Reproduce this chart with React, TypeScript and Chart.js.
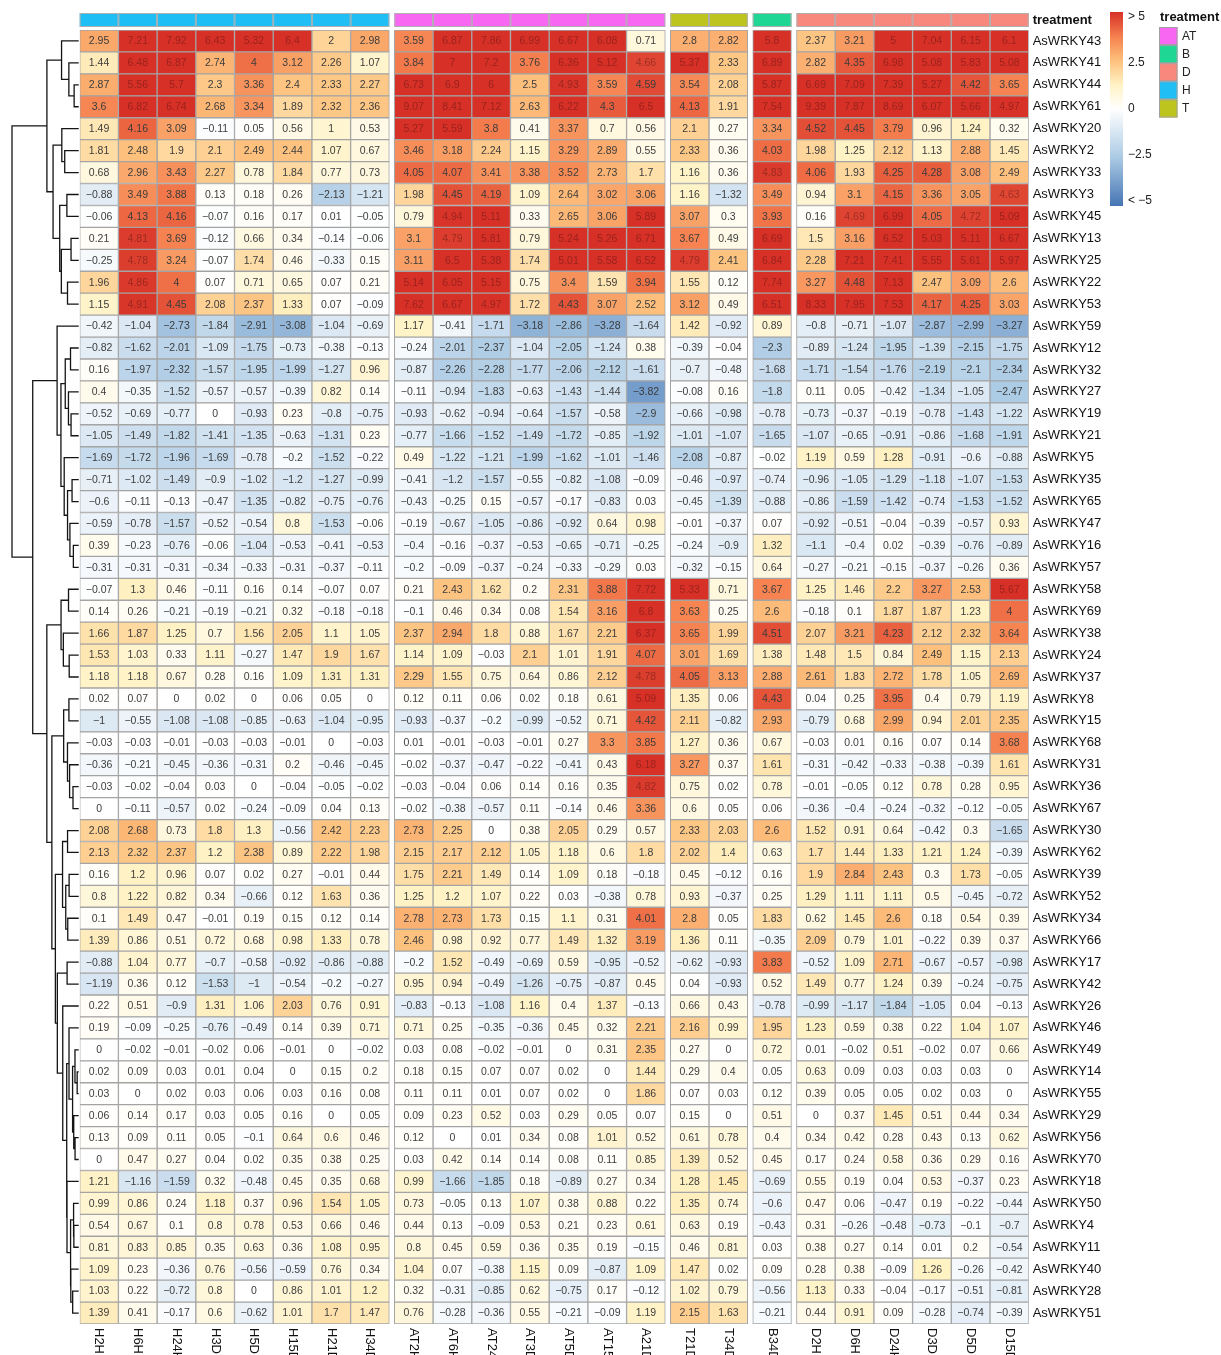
import React, { useEffect, useRef } from "react";
import { Chart, registerables } from "chart.js";
Chart.register(...registerables);

const FONT = "'Liberation Sans', Arial, Helvetica, sans-serif";

const rowLabels = [
  "AsWRKY43", "AsWRKY41", "AsWRKY44", "AsWRKY61", "AsWRKY20", "AsWRKY2", "AsWRKY33", "AsWRKY3", "AsWRKY45", "AsWRKY13",
  "AsWRKY25", "AsWRKY22", "AsWRKY53", "AsWRKY59", "AsWRKY12", "AsWRKY32", "AsWRKY27", "AsWRKY19", "AsWRKY21", "AsWRKY5",
  "AsWRKY35", "AsWRKY65", "AsWRKY47", "AsWRKY16", "AsWRKY57", "AsWRKY58", "AsWRKY69", "AsWRKY38", "AsWRKY24", "AsWRKY37",
  "AsWRKY8", "AsWRKY15", "AsWRKY68", "AsWRKY31", "AsWRKY36", "AsWRKY67", "AsWRKY30", "AsWRKY62", "AsWRKY39", "AsWRKY52",
  "AsWRKY34", "AsWRKY66", "AsWRKY17", "AsWRKY42", "AsWRKY26", "AsWRKY46", "AsWRKY49", "AsWRKY14", "AsWRKY55", "AsWRKY29",
  "AsWRKY56", "AsWRKY70", "AsWRKY18", "AsWRKY50", "AsWRKY4", "AsWRKY11", "AsWRKY40", "AsWRKY28", "AsWRKY51",
];

const columnLabels = [
  "H2H", "H6H", "H24H", "H3D", "H5D", "H15D", "H21D", "H34D",
  "AT2H", "AT6H", "AT24H", "AT3D", "AT5D", "AT15D", "A21D",
  "T21D", "T34D",
  "B34D",
  "D2H", "D6H", "D24H", "D3D", "D5D", "D15D",
];

const columnGroups = [
  "H", "H", "H", "H", "H", "H", "H", "H",
  "AT", "AT", "AT", "AT", "AT", "AT", "AT",
  "T", "T",
  "B",
  "D", "D", "D", "D", "D", "D",
];

const groupOrder = ["H", "AT", "T", "B", "D"];
const treatmentLevels = ["AT", "B", "D", "H", "T"];
const treatmentColors = ["#F767F2", "#1FD694", "#F8877E", "#1FBFF6", "#BEC41E"];
const legendValues = [5, 2.5, 0, -2.5, -5];
const legendLabels = ["> 5", "2.5", "0", "\u22122.5", "< \u22125"];

const valuesH = [
  [2.95, 7.21, 7.92, 6.43, 5.32, 6.4, 2, 2.98],
  [1.44, 6.48, 6.87, 2.74, 4, 3.12, 2.26, 1.07],
  [2.87, 5.56, 5.7, 2.3, 3.36, 2.4, 2.33, 2.27],
  [3.6, 6.82, 6.74, 2.68, 3.34, 1.89, 2.32, 2.36],
  [1.49, 4.16, 3.09, -0.11, 0.05, 0.56, 1, 0.53],
  [1.81, 2.48, 1.9, 2.1, 2.49, 2.44, 1.07, 0.67],
  [0.68, 2.96, 3.43, 2.27, 0.78, 1.84, 0.77, 0.73],
  [-0.88, 3.49, 3.88, 0.13, 0.18, 0.26, -2.13, -1.21],
  [-0.06, 4.13, 4.16, -0.07, 0.16, 0.17, 0.01, -0.05],
  [0.21, 4.81, 3.69, -0.12, 0.66, 0.34, -0.14, -0.06],
  [-0.25, 4.78, 3.24, -0.07, 1.74, 0.46, -0.33, 0.15],
  [1.96, 4.86, 4, 0.07, 0.71, 0.65, 0.07, 0.21],
  [1.15, 4.91, 4.45, 2.08, 2.37, 1.33, 0.07, -0.09],
  [-0.42, -1.04, -2.73, -1.84, -2.91, -3.08, -1.04, -0.69],
  [-0.82, -1.62, -2.01, -1.09, -1.75, -0.73, -0.38, -0.13],
  [0.16, -1.97, -2.32, -1.57, -1.95, -1.99, -1.27, 0.96],
  [0.4, -0.35, -1.52, -0.57, -0.57, -0.39, 0.82, 0.14],
  [-0.52, -0.69, -0.77, 0, -0.93, 0.23, -0.8, -0.75],
  [-1.05, -1.49, -1.82, -1.41, -1.35, -0.63, -1.31, 0.23],
  [-1.69, -1.72, -1.96, -1.69, -0.78, -0.2, -1.52, -0.22],
  [-0.71, -1.02, -1.49, -0.9, -1.02, -1.2, -1.27, -0.99],
  [-0.6, -0.11, -0.13, -0.47, -1.35, -0.82, -0.75, -0.76],
  [-0.59, -0.78, -1.57, -0.52, -0.54, 0.8, -1.53, -0.06],
  [0.39, -0.23, -0.76, -0.06, -1.04, -0.53, -0.41, -0.53],
  [-0.31, -0.31, -0.31, -0.34, -0.33, -0.31, -0.37, -0.11],
  [-0.07, 1.3, 0.46, -0.11, 0.16, 0.14, -0.07, 0.07],
  [0.14, 0.26, -0.21, -0.19, -0.21, 0.32, -0.18, -0.18],
  [1.66, 1.87, 1.25, 0.7, 1.56, 2.05, 1.1, 1.05],
  [1.53, 1.03, 0.33, 1.11, -0.27, 1.47, 1.9, 1.67],
  [1.18, 1.18, 0.67, 0.28, 0.16, 1.09, 1.31, 1.31],
  [0.02, 0.07, 0, 0.02, 0, 0.06, 0.05, 0],
  [-1, -0.55, -1.08, -1.08, -0.85, -0.63, -1.04, -0.95],
  [-0.03, -0.03, -0.01, -0.03, -0.03, -0.01, 0, -0.03],
  [-0.36, -0.21, -0.45, -0.36, -0.31, 0.2, -0.46, -0.45],
  [-0.03, -0.02, -0.04, 0.03, 0, -0.04, -0.05, -0.02],
  [0, -0.11, -0.57, 0.02, -0.24, -0.09, 0.04, 0.13],
  [2.08, 2.68, 0.73, 1.8, 1.3, -0.56, 2.42, 2.23],
  [2.13, 2.32, 2.37, 1.2, 2.38, 0.89, 2.22, 1.98],
  [0.16, 1.2, 0.96, 0.07, 0.02, 0.27, -0.01, 0.44],
  [0.8, 1.22, 0.82, 0.34, -0.66, 0.12, 1.63, 0.36],
  [0.1, 1.49, 0.47, -0.01, 0.19, 0.15, 0.12, 0.14],
  [1.39, 0.86, 0.51, 0.72, 0.68, 0.98, 1.33, 0.78],
  [-0.88, 1.04, 0.77, -0.7, -0.58, -0.92, -0.86, -0.88],
  [-1.19, 0.36, 0.12, -1.53, -1, -0.54, -0.2, -0.27],
  [0.22, 0.51, -0.9, 1.31, 1.06, 2.03, 0.76, 0.91],
  [0.19, -0.09, -0.25, -0.76, -0.49, 0.14, 0.39, 0.71],
  [0, -0.02, -0.01, -0.02, 0.06, -0.01, 0, -0.02],
  [0.02, 0.09, 0.03, 0.01, 0.04, 0, 0.15, 0.2],
  [0.03, 0, 0.02, 0.03, 0.06, 0.03, 0.16, 0.08],
  [0.06, 0.14, 0.17, 0.03, 0.05, 0.16, 0, 0.05],
  [0.13, 0.09, 0.11, 0.05, -0.1, 0.64, 0.6, 0.46],
  [0, 0.47, 0.27, 0.04, 0.02, 0.35, 0.38, 0.25],
  [1.21, -1.16, -1.59, 0.32, -0.48, 0.45, 0.35, 0.68],
  [0.99, 0.86, 0.24, 1.18, 0.37, 0.96, 1.54, 1.05],
  [0.54, 0.67, 0.1, 0.8, 0.78, 0.53, 0.66, 0.46],
  [0.81, 0.83, 0.85, 0.35, 0.63, 0.36, 1.08, 0.95],
  [1.09, 0.23, -0.36, 0.76, -0.56, -0.59, 0.76, 0.34],
  [1.03, 0.22, -0.72, 0.8, 0, 0.86, 1.01, 1.2],
  [1.39, 0.41, -0.17, 0.6, -0.62, 1.01, 1.7, 1.47],
];

const valuesAT = [
  [3.59, 6.87, 7.86, 6.99, 6.67, 6.08, 0.71],
  [3.84, 7, 7.2, 3.76, 6.36, 5.12, 4.66],
  [6.73, 6.9, 6, 2.5, 4.93, 3.59, 4.59],
  [9.07, 8.41, 7.12, 2.63, 6.22, 4.3, 6.5],
  [5.27, 5.59, 3.8, 0.41, 3.37, 0.7, 0.56],
  [3.46, 3.18, 2.24, 1.15, 3.29, 2.89, 0.55],
  [4.05, 4.07, 3.41, 3.38, 3.52, 2.73, 1.7],
  [1.98, 4.45, 4.19, 1.09, 2.64, 3.02, 3.06],
  [0.79, 4.94, 5.11, 0.33, 2.65, 3.06, 5.89],
  [3.1, 4.79, 5.81, 0.79, 5.24, 5.26, 6.71],
  [3.11, 6.5, 5.38, 1.74, 5.01, 5.58, 6.52],
  [5.14, 6.05, 5.15, 0.75, 3.4, 1.59, 3.94],
  [7.62, 6.67, 4.97, 1.72, 4.43, 3.07, 2.52],
  [1.17, -0.41, -1.71, -3.18, -2.86, -3.28, -1.64],
  [-0.24, -2.01, -2.37, -1.04, -2.05, -1.24, 0.38],
  [-0.87, -2.26, -2.28, -1.77, -2.06, -2.12, -1.61],
  [-0.11, -0.94, -1.83, -0.63, -1.43, -1.44, -3.82],
  [-0.93, -0.62, -0.94, -0.64, -1.57, -0.58, -2.9],
  [-0.77, -1.66, -1.52, -1.49, -1.72, -0.85, -1.92],
  [0.49, -1.22, -1.21, -1.99, -1.62, -1.01, -1.46],
  [-0.41, -1.2, -1.57, -0.55, -0.82, -1.08, -0.09],
  [-0.43, -0.25, 0.15, -0.57, -0.17, -0.83, 0.03],
  [-0.19, -0.67, -1.05, -0.86, -0.92, 0.64, 0.98],
  [-0.4, -0.16, -0.37, -0.53, -0.65, -0.71, -0.25],
  [-0.2, -0.09, -0.37, -0.24, -0.33, -0.29, 0.03],
  [0.21, 2.43, 1.62, 0.2, 2.31, 3.88, 7.72],
  [-0.1, 0.46, 0.34, 0.08, 1.54, 3.16, 6.8],
  [2.37, 2.94, 1.8, 0.88, 1.67, 2.21, 6.37],
  [1.14, 1.09, -0.03, 2.1, 1.01, 1.91, 4.07],
  [2.29, 1.55, 0.75, 0.64, 0.86, 2.12, 4.78],
  [0.12, 0.11, 0.06, 0.02, 0.18, 0.61, 5.09],
  [-0.93, -0.37, -0.2, -0.99, -0.52, 0.71, 4.42],
  [0.01, -0.01, -0.03, -0.01, 0.27, 3.3, 3.85],
  [-0.02, -0.37, -0.47, -0.22, -0.41, 0.43, 6.18],
  [-0.03, -0.04, 0.06, 0.14, 0.16, 0.35, 4.82],
  [-0.02, -0.38, -0.57, 0.11, -0.14, 0.46, 3.36],
  [2.73, 2.25, 0, 0.38, 2.05, 0.29, 0.57],
  [2.15, 2.17, 2.12, 1.05, 1.18, 0.6, 1.8],
  [1.75, 2.21, 1.49, 0.14, 1.09, 0.18, -0.18],
  [1.25, 1.2, 1.07, 0.22, 0.03, -0.38, 0.78],
  [2.78, 2.73, 1.73, 0.15, 1.1, 0.31, 4.01],
  [2.46, 0.98, 0.92, 0.77, 1.49, 1.32, 3.19],
  [-0.2, 1.52, -0.49, -0.69, 0.59, -0.95, -0.52],
  [0.95, 0.94, -0.49, -1.26, -0.75, -0.87, 0.45],
  [-0.83, -0.13, -1.08, 1.16, 0.4, 1.37, -0.13],
  [0.71, 0.25, -0.35, -0.36, 0.45, 0.32, 2.21],
  [0.03, 0.08, -0.02, -0.01, 0, 0.31, 2.35],
  [0.18, 0.15, 0.07, 0.07, 0.02, 0, 1.44],
  [0.11, 0.11, 0.01, 0.07, 0.02, 0, 1.86],
  [0.09, 0.23, 0.52, 0.03, 0.29, 0.05, 0.07],
  [0.12, 0, 0.01, 0.34, 0.08, 1.01, 0.52],
  [0.03, 0.42, 0.14, 0.14, 0.08, 0.11, 0.85],
  [0.99, -1.66, -1.85, 0.18, -0.89, 0.27, 0.34],
  [0.73, -0.05, 0.13, 1.07, 0.38, 0.88, 0.22],
  [0.44, 0.13, -0.09, 0.53, 0.21, 0.23, 0.61],
  [0.8, 0.45, 0.59, 0.36, 0.35, 0.19, -0.15],
  [1.04, 0.07, -0.38, 1.15, 0.09, -0.87, 1.09],
  [0.32, -0.31, -0.85, 0.62, -0.75, 0.17, -0.12],
  [0.76, -0.28, -0.36, 0.55, -0.21, -0.09, 1.19],
];

const valuesT = [
  [2.8, 2.82], [5.37, 2.33], [3.54, 2.08], [4.13, 1.91], [2.1, 0.27], [2.33, 0.36], [1.16, 0.36], [1.16, -1.32],
  [3.07, 0.3], [3.67, 0.49], [4.79, 2.41], [1.55, 0.12], [3.12, 0.49], [1.42, -0.92], [-0.39, -0.04], [-0.7, -0.48],
  [-0.08, 0.16], [-0.66, -0.98], [-1.01, -1.07], [-2.08, -0.87], [-0.46, -0.97], [-0.45, -1.39], [-0.01, -0.37],
  [-0.24, -0.9], [-0.32, -0.15], [5.33, 0.71], [3.63, 0.25], [3.65, 1.99], [3.01, 1.69], [4.05, 3.13], [1.35, 0.06],
  [2.11, -0.82], [1.27, 0.36], [3.27, 0.37], [0.75, 0.02], [0.6, 0.05], [2.33, 2.03], [2.02, 1.4], [0.45, -0.12],
  [0.93, -0.37], [2.8, 0.05], [1.36, 0.11], [-0.62, -0.93], [0.04, -0.93], [0.66, 0.43], [2.16, 0.99], [0.27, 0],
  [0.29, 0.4], [0.07, 0.03], [0.15, 0], [0.61, 0.78], [1.39, 0.52], [1.28, 1.45], [1.35, 0.74], [0.63, 0.19],
  [0.46, 0.81], [1.47, 0.02], [1.02, 0.79], [2.15, 1.63],
];

const valuesB = [
  5.8, 6.89, 5.87, 7.54, 3.34, 4.03, 4.83, 3.49, 3.93, 6.69, 6.84, 7.74, 6.51,
  0.89, -2.3, -1.68, -1.8, -0.78, -1.65, -0.02, -0.74, -0.88, 0.07, 1.32, 0.64,
  3.67, 2.6, 4.51, 1.38, 2.88, 4.43, 2.93, 0.67, 1.61, 0.78, 0.06,
  2.6, 0.63, 0.16, 0.25, 1.83, -0.35, 3.83, 0.52, -0.78, 1.95, 0.72, 0.05, 0.12, 0.51, 0.4, 0.45,
  -0.69, -0.6, -0.43, 0.03, 0.09, -0.56, -0.21,
];

const valuesD = [
  [2.37, 3.21, 5, 7.04, 6.15, 6.1],
  [2.82, 4.35, 6.98, 5.08, 5.83, 5.08],
  [6.69, 7.09, 7.39, 5.27, 4.42, 3.65],
  [9.39, 7.87, 8.69, 6.07, 5.66, 4.97],
  [4.52, 4.45, 3.79, 0.96, 1.24, 0.32],
  [1.98, 1.25, 2.12, 1.13, 2.88, 1.45],
  [4.06, 1.93, 4.25, 4.28, 3.08, 2.49],
  [0.94, 3.1, 4.15, 3.36, 3.05, 4.63],
  [0.16, 4.69, 6.99, 4.05, 4.72, 5.09],
  [1.5, 3.16, 6.52, 5.03, 5.11, 6.67],
  [2.28, 7.21, 7.41, 5.55, 5.61, 5.97],
  [3.27, 4.48, 7.13, 2.47, 3.09, 2.6],
  [8.33, 7.95, 7.53, 4.17, 4.25, 3.03],
  [-0.8, -0.71, -1.07, -2.87, -2.99, -3.27],
  [-0.89, -1.24, -1.95, -1.39, -2.15, -1.75],
  [-1.71, -1.54, -1.76, -2.19, -2.1, -2.34],
  [0.11, 0.05, -0.42, -1.34, -1.05, -2.47],
  [-0.73, -0.37, -0.19, -0.78, -1.43, -1.22],
  [-1.07, -0.65, -0.91, -0.86, -1.68, -1.91],
  [1.19, 0.59, 1.28, -0.91, -0.6, -0.88],
  [-0.96, -1.05, -1.29, -1.18, -1.07, -1.53],
  [-0.86, -1.59, -1.42, -0.74, -1.53, -1.52],
  [-0.92, -0.51, -0.04, -0.39, -0.57, 0.93],
  [-1.1, -0.4, 0.02, -0.39, -0.76, -0.89],
  [-0.27, -0.21, -0.15, -0.37, -0.26, 0.36],
  [1.25, 1.46, 2.2, 3.27, 2.53, 5.67],
  [-0.18, 0.1, 1.87, 1.87, 1.23, 4],
  [2.07, 3.21, 4.23, 2.12, 2.32, 3.64],
  [1.48, 1.5, 0.84, 2.49, 1.15, 2.13],
  [2.61, 1.83, 2.72, 1.78, 1.05, 2.69],
  [0.04, 0.25, 3.95, 0.4, 0.79, 1.19],
  [-0.79, 0.68, 2.99, 0.94, 2.01, 2.35],
  [-0.03, 0.01, 0.16, 0.07, 0.14, 3.68],
  [-0.31, -0.42, -0.33, -0.38, -0.39, 1.61],
  [-0.01, -0.05, 0.12, 0.78, 0.28, 0.95],
  [-0.36, -0.4, -0.24, -0.32, -0.12, -0.05],
  [1.52, 0.91, 0.64, -0.42, 0.3, -1.65],
  [1.7, 1.44, 1.33, 1.21, 1.24, -0.39],
  [1.9, 2.84, 2.43, 0.3, 1.73, -0.05],
  [1.29, 1.11, 1.11, 0.5, -0.45, -0.72],
  [0.62, 1.45, 2.6, 0.18, 0.54, 0.39],
  [2.09, 0.79, 1.01, -0.22, 0.39, 0.37],
  [-0.52, 1.09, 2.71, -0.67, -0.57, -0.98],
  [1.49, 0.77, 1.24, 0.39, -0.24, -0.75],
  [-0.99, -1.17, -1.84, -1.05, 0.04, -0.13],
  [1.23, 0.59, 0.38, 0.22, 1.04, 1.07],
  [0.01, -0.02, 0.51, -0.02, 0.07, 0.66],
  [0.63, 0.09, 0.03, 0.03, 0.03, 0],
  [0.39, 0.05, 0.05, 0.02, 0.03, 0],
  [0, 0.37, 1.45, 0.51, 0.44, 0.34],
  [0.34, 0.42, 0.28, 0.43, 0.13, 0.62],
  [0.17, 0.24, 0.58, 0.36, 0.29, 0.16],
  [0.55, 0.19, 0.04, 0.53, -0.37, 0.23],
  [0.47, 0.06, -0.47, 0.19, -0.22, -0.44],
  [0.31, -0.26, -0.48, -0.73, -0.1, -0.7],
  [0.38, 0.27, 0.14, 0.01, 0.2, -0.54],
  [0.28, 0.38, -0.09, 1.26, -0.26, -0.42],
  [1.13, 0.33, -0.04, -0.17, -0.51, -0.81],
  [0.44, 0.91, 0.09, -0.28, -0.74, -0.39],
];

// colour scale limits: values beyond are shown as "> 5" / "< -5"
const SCALE_MIN = -5;
const SCALE_MAX = 5;

// colour ramp (value -> rgb)
const rampStops: [number, number[]][] = [
  [-5, [69, 117, 180]],
  [-2.5, [171, 202, 228]],
  [0, [255, 255, 255]],
  [1.25, [255, 242, 196]],
  [2.5, [253, 192, 124]],
  [3.75, [245, 127, 78]],
  [5, [215, 48, 39]],
];

const clip = (v: number) => Math.max(SCALE_MIN, Math.min(SCALE_MAX, v));

function heatRGB(v: number): number[] {
  const x = clip(v);
  for (let i = 0; i < rampStops.length - 1; i++) {
    const [a, ca] = rampStops[i];
    const [b, cb] = rampStops[i + 1];
    if (x >= a && x <= b) {
      const t = (x - a) / (b - a);
      return ca.map((c, k) => Math.round(c + (cb[k] - c) * t));
    }
  }
  return rampStops[rampStops.length - 1][1];
}
const heatColor = (v: number) => {
  const c = heatRGB(v);
  return `rgb(${c[0]},${c[1]},${c[2]})`;
};

type DNode = { leaf?: number; left?: DNode; right?: DNode; h: number };

// complete linkage, euclidean distance on the clipped colour matrix
function clusterRows(mat: number[][]): DNode {
  const n = mat.length;
  const D: number[][] = [];
  for (let i = 0; i < n; i++) {
    D.push([]);
    for (let j = 0; j < n; j++) {
      let s = 0;
      for (let k = 0; k < mat[i].length; k++) s += (mat[i][k] - mat[j][k]) ** 2;
      D[i].push(Math.sqrt(s));
    }
  }
  const active = mat.map((_, i) => ({ idx: i, node: { leaf: i, h: 0 } as DNode }));
  while (active.length > 1) {
    let bi = 0, bj = 1, best = Infinity;
    for (let i = 0; i < active.length; i++)
      for (let j = i + 1; j < active.length; j++) {
        const d = D[active[i].idx][active[j].idx];
        if (d < best) { best = d; bi = i; bj = j; }
      }
    const A = active[bi], B = active[bj];
    for (const c of active) {
      if (c === A || c === B) continue;
      const v = Math.max(D[A.idx][c.idx], D[B.idx][c.idx]);
      D[A.idx][c.idx] = v;
      D[c.idx][A.idx] = v;
    }
    A.node = { left: A.node, right: B.node, h: best };
    active.splice(bj, 1);
  }
  return active[0].node;
}

const GAP = 0.13;

function fmt(v: number) {
  return String(v).replace("-", "\u2212");
}

export default function App() {
  const ref = useRef<HTMLCanvasElement>(null);

  useEffect(() => {
    document.body.style.margin = "0";
    document.body.style.overflow = "hidden";
    const canvas = ref.current;
    if (!canvas) return;

    const matrix = rowLabels.map((_, r) => [...valuesH[r], ...valuesAT[r], ...valuesT[r], valuesB[r], ...valuesD[r]]);
    const starts = columnGroups.map((g, c) => c + groupOrder.indexOf(g) * GAP);
    const tree = clusterRows(matrix.map((row) => row.map(clip)));

    const datasets = columnLabels.map((lab, c) => ({
      label: lab,
      data: rowLabels.map(() => [starts[c], starts[c] + 1]),
      backgroundColor: matrix.map((row) => heatColor(row[c])),
      borderColor: "#A4A4A4",
      borderWidth: 1,
      borderSkipped: false,
      grouped: false,
      barPercentage: 1,
      categoryPercentage: 1,
    }));

    const cellText = {
      id: "cellText",
      afterDatasetsDraw(chart: any) {
        const ctx = chart.ctx;
        ctx.save();
        ctx.font = `10.5px ${FONT}`;
        ctx.textAlign = "center";
        ctx.textBaseline = "middle";
        columnLabels.forEach((_, c) => {
          const meta = chart.getDatasetMeta(c);
          meta.data.forEach((el: any, r: number) => {
            const v = matrix[r][c];
            const cx = (el.x + el.base) / 2;
            ctx.fillStyle = v >= 4.6 ? "rgba(70,15,15,0.42)" : "#3c3c3c";
            ctx.fillText(fmt(v), cx, el.y + 0.5);
          });
        });
        ctx.restore();
      },
    };

    const decorations = {
      id: "decorations",
      afterDraw(chart: any) {
        const ctx = chart.ctx;
        const area = chart.chartArea;
        const xs = chart.scales.x;
        const ys = chart.scales.y;
        ctx.save();

        // column annotation strip
        columnGroups.forEach((g, c) => {
          const x0 = xs.getPixelForValue(starts[c]);
          const x1 = xs.getPixelForValue(starts[c] + 1);
          ctx.fillStyle = treatmentColors[treatmentLevels.indexOf(g)];
          ctx.fillRect(x0, area.top - 17, x1 - x0, 14);
          ctx.strokeStyle = "#B0B0B0";
          ctx.lineWidth = 1;
          ctx.strokeRect(x0 + 0.5, area.top - 16.5, x1 - x0 - 1, 13);
        });
        ctx.fillStyle = "#111";
        ctx.font = `bold 13px ${FONT}`;
        ctx.textAlign = "left";
        ctx.textBaseline = "middle";
        ctx.fillText("treatment", area.right + 4, area.top - 10);

        // column labels (rotated, reading downwards)
        ctx.font = `13px ${FONT}`;
        columnLabels.forEach((lab, c) => {
          const cx = xs.getPixelForValue(starts[c] + 0.5);
          ctx.save();
          ctx.translate(cx, area.bottom + 4);
          ctx.rotate(Math.PI / 2);
          ctx.textAlign = "left";
          ctx.textBaseline = "middle";
          ctx.fillStyle = "#111";
          ctx.fillText(lab, 0, 0);
          ctx.restore();
        });

        // row dendrogram
        const leafX = area.left - 1;
        const span = leafX - 12;
        const maxH = tree.h;
        const xOf = (h: number) => leafX - (h / maxH) * span;
        ctx.beginPath();
        const walk = (node: DNode): { x: number; y: number } => {
          if (node.leaf !== undefined) return { x: xOf(0), y: ys.getPixelForValue(node.leaf) };
          const L = walk(node.left as DNode);
          const R = walk(node.right as DNode);
          const x = xOf(node.h);
          ctx.moveTo(L.x, L.y);
          ctx.lineTo(x, L.y);
          ctx.lineTo(x, R.y);
          ctx.lineTo(R.x, R.y);
          return { x, y: (L.y + R.y) / 2 };
        };
        walk(tree);
        ctx.strokeStyle = "#141414";
        ctx.lineWidth = 1.3;
        ctx.stroke();

        // colour key
        const kx = 1110, kw = 13, kTop = 12, kBot = 206;
        const grad = ctx.createLinearGradient(0, kTop, 0, kBot);
        rampStops.forEach(([v, col]) => {
          grad.addColorStop((SCALE_MAX - v) / (SCALE_MAX - SCALE_MIN), `rgb(${col[0]},${col[1]},${col[2]})`);
        });
        ctx.fillStyle = grad;
        ctx.fillRect(kx, kTop, kw, kBot - kTop);
        ctx.fillStyle = "#222";
        ctx.font = `12px ${FONT}`;
        ctx.textAlign = "left";
        ctx.textBaseline = "middle";
        legendValues.forEach((v, i) => {
          const y = 17 + ((SCALE_MAX - v) / (SCALE_MAX - SCALE_MIN)) * (201 - 17);
          ctx.fillText(legendLabels[i], kx + 18, y);
        });

        // treatment legend
        ctx.font = `bold 13px ${FONT}`;
        ctx.fillStyle = "#111";
        ctx.fillText("treatment", 1160, 17);
        ctx.font = `12px ${FONT}`;
        treatmentLevels.forEach((lev, i) => {
          const y0 = 27 + i * 18.1;
          ctx.fillStyle = treatmentColors[i];
          ctx.fillRect(1159, y0, 18.5, 18.1);
          ctx.strokeStyle = "#A0A0A0";
          ctx.lineWidth = 1;
          ctx.strokeRect(1159.5, y0 + 0.5, 17.5, 17.1);
          ctx.fillStyle = "#222";
          ctx.fillText(lev, 1182, y0 + 9.5);
        });

        ctx.restore();
      },
    };

    const chart = new Chart(canvas, {
      type: "bar",
      data: { labels: rowLabels, datasets: datasets as any },
      options: {
        indexAxis: "y",
        responsive: false,
        animation: false,
        events: [],
        layout: { padding: { left: 79.7, right: 0, top: 30, bottom: 31 } },
        plugins: { legend: { display: false }, tooltip: { enabled: false } },
        scales: {
          x: {
            type: "linear",
            min: 0,
            max: columnLabels.length + (groupOrder.length - 1) * GAP,
            display: false,
          },
          y: {
            type: "category",
            position: "right",
            grid: { display: false, drawTicks: false },
            border: { display: false },
            ticks: {
              autoSkip: false,
              padding: 4,
              color: "#111",
              font: { family: FONT, size: 13 },
            },
            afterFit(scale: any) {
              scale.width = 192.3;
            },
          },
        },
      } as any,
      plugins: [cellText, decorations],
    });

    return () => chart.destroy();
  }, []);

  return (
    <div style={{ width: 1221, height: 1355 }}>
      <canvas ref={ref} width={1221} height={1355} style={{ display: "block", width: 1221, height: 1355 }} />
    </div>
  );
}
